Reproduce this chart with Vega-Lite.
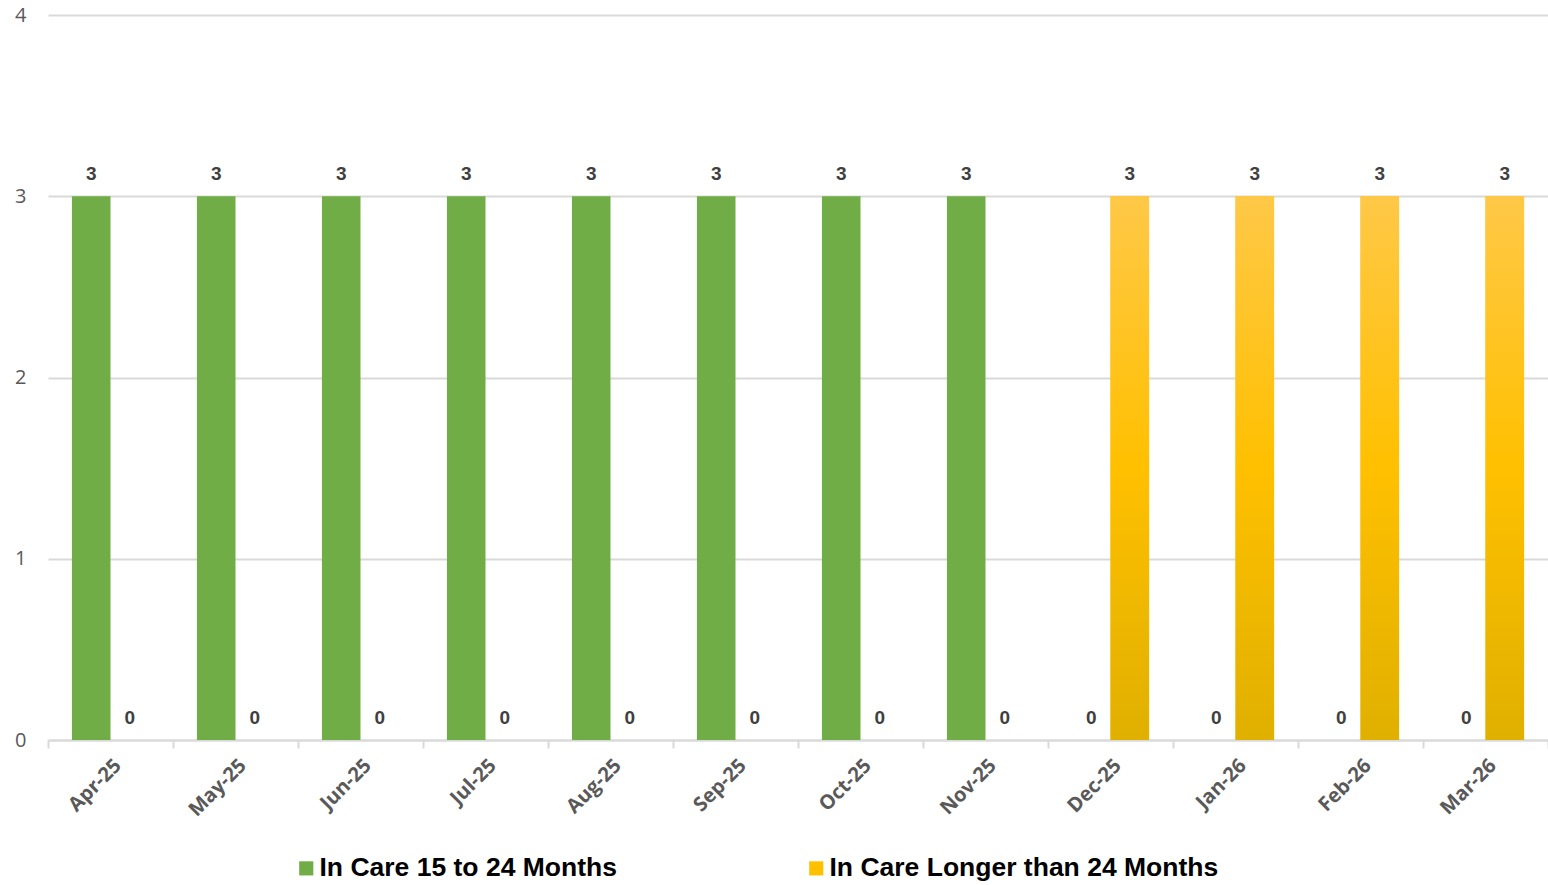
{
  "$schema": "https://vega.github.io/schema/vega-lite/v6.json",
  "width": 1500,
  "height": 725,
  "autosize": "none",
  "padding": {"left": 48, "top": 15, "right": 0, "bottom": 145},
  "background": "white",
  "config": {"view": {"stroke": null}},
  "data": {
    "values": [
      {"month": "Apr-25", "series": "In Care 15 to 24 Months", "value": 3},
      {"month": "Apr-25", "series": "In Care Longer than 24 Months", "value": 0},
      {"month": "May-25", "series": "In Care 15 to 24 Months", "value": 3},
      {"month": "May-25", "series": "In Care Longer than 24 Months", "value": 0},
      {"month": "Jun-25", "series": "In Care 15 to 24 Months", "value": 3},
      {"month": "Jun-25", "series": "In Care Longer than 24 Months", "value": 0},
      {"month": "Jul-25", "series": "In Care 15 to 24 Months", "value": 3},
      {"month": "Jul-25", "series": "In Care Longer than 24 Months", "value": 0},
      {"month": "Aug-25", "series": "In Care 15 to 24 Months", "value": 3},
      {"month": "Aug-25", "series": "In Care Longer than 24 Months", "value": 0},
      {"month": "Sep-25", "series": "In Care 15 to 24 Months", "value": 3},
      {"month": "Sep-25", "series": "In Care Longer than 24 Months", "value": 0},
      {"month": "Oct-25", "series": "In Care 15 to 24 Months", "value": 3},
      {"month": "Oct-25", "series": "In Care Longer than 24 Months", "value": 0},
      {"month": "Nov-25", "series": "In Care 15 to 24 Months", "value": 3},
      {"month": "Nov-25", "series": "In Care Longer than 24 Months", "value": 0},
      {"month": "Dec-25", "series": "In Care 15 to 24 Months", "value": 0},
      {"month": "Dec-25", "series": "In Care Longer than 24 Months", "value": 3},
      {"month": "Jan-26", "series": "In Care 15 to 24 Months", "value": 0},
      {"month": "Jan-26", "series": "In Care Longer than 24 Months", "value": 3},
      {"month": "Feb-26", "series": "In Care 15 to 24 Months", "value": 0},
      {"month": "Feb-26", "series": "In Care Longer than 24 Months", "value": 3},
      {"month": "Mar-26", "series": "In Care 15 to 24 Months", "value": 0},
      {"month": "Mar-26", "series": "In Care Longer than 24 Months", "value": 3}
    ]
  },
  "encoding": {
    "x": {
      "field": "month",
      "type": "nominal",
      "sort": null,
      "scale": {"paddingInner": 0, "paddingOuter": 0},
      "axis": {
        "title": null,
        "tickBand": "extent",
        "domainColor": "#d9d9d9",
        "domainWidth": 2,
        "tickColor": "#d9d9d9",
        "tickWidth": 2,
        "tickSize": 8,
        "labelAngle": -45,
        "labelFont": "Open Sans",
        "labelFontWeight": "bold",
        "labelFontSize": 20,
        "labelColor": "#595959",
        "labelPadding": 7
      }
    },
    "xOffset": {
      "field": "series",
      "type": "nominal",
      "sort": ["In Care 15 to 24 Months", "In Care Longer than 24 Months"],
      "scale": {"paddingInner": 0, "paddingOuter": 0.62}
    },
    "y": {
      "field": "value",
      "type": "quantitative",
      "scale": {"domain": [0, 4], "nice": false},
      "axis": {
        "title": null,
        "values": [0, 1, 2, 3, 4],
        "domain": false,
        "ticks": false,
        "gridColor": "#d9d9d9",
        "gridWidth": 2,
        "labelFont": "Open Sans",
        "labelFontSize": 20,
        "labelColor": "#595959",
        "labelPadding": 22
      }
    }
  },
  "layer": [
    {
      "mark": {"type": "bar"},
      "encoding": {
        "color": {
          "field": "series",
          "type": "nominal",
          "sort": ["In Care 15 to 24 Months", "In Care Longer than 24 Months"],
          "scale": {
            "domain": ["In Care 15 to 24 Months", "In Care Longer than 24 Months"],
            "range": ["#70AD47", "#FFC000"]
          },
          "legend": {
            "title": null,
            "orient": "none",
            "direction": "horizontal",
            "legendX": 245,
            "legendY": 840,
            "symbolType": "square",
            "symbolSize": 200,
            "symbolStrokeWidth": 0,
            "labelFont": "Liberation Sans",
            "labelFontWeight": "bold",
            "labelFontSize": 26.5,
            "labelColor": "#000000",
            "labelLimit": 600,
            "labelOffset": 0,
            "columnPadding": 186
          }
        }
      }
    },
    {
      "transform": [{"filter": "datum.series === 'In Care Longer than 24 Months' && datum.value > 0"}],
      "mark": {
        "type": "bar",
        "fill": {
          "gradient": "linear",
          "x1": 0, "y1": 0, "x2": 0, "y2": 1,
          "stops": [
            {"offset": 0, "color": "#FFC847"},
            {"offset": 0.5, "color": "#FFC000"},
            {"offset": 1, "color": "#E0B000"}
          ]
        }
      },
      "encoding": {}
    },
    {
      "mark": {
        "type": "text",
        "baseline": "bottom",
        "dy": -12,
        "font": "Liberation Sans",
        "fontWeight": "bold",
        "fontSize": 19,
        "color": "#404040"
      },
      "encoding": {
        "text": {"field": "value", "type": "quantitative"}
      }
    }
  ]
}
